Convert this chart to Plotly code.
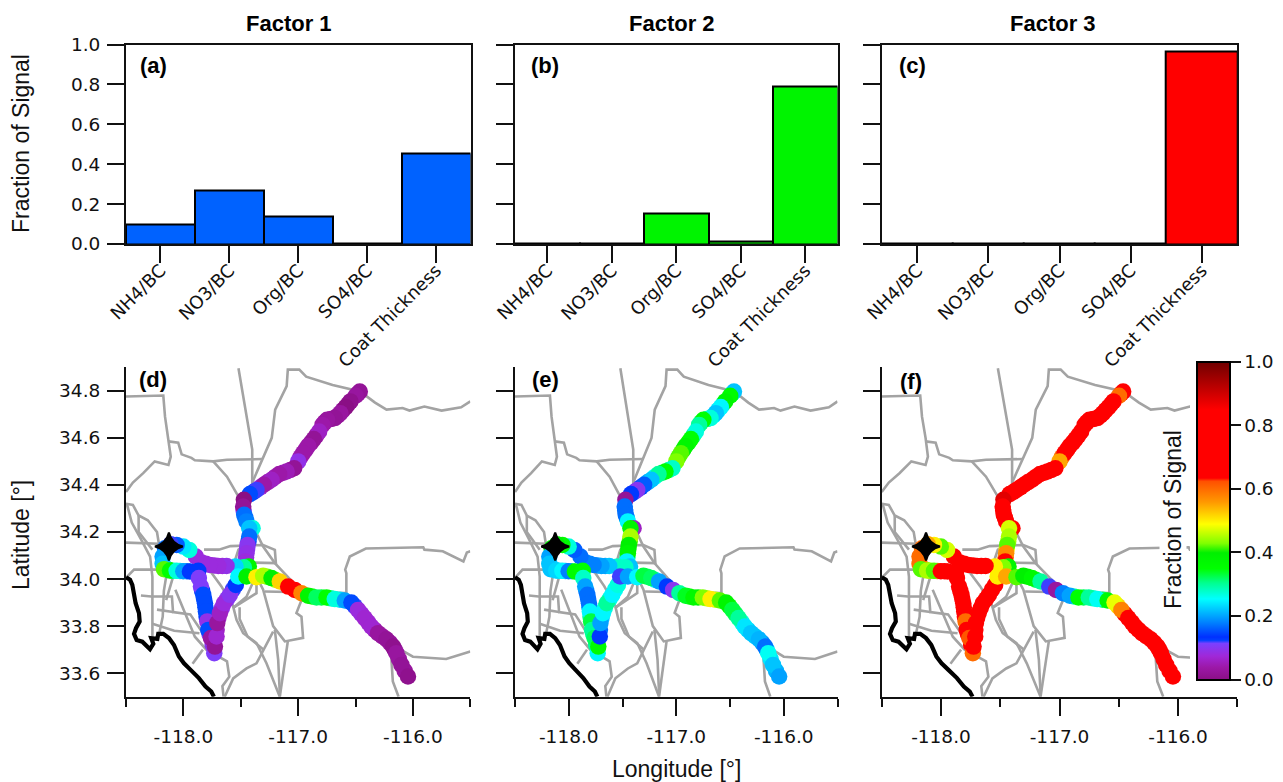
import plotly.graph_objects as go

W, H = 1283, 782

# ---------- bar data ----------
species = ["NH4/BC", "NO3/BC", "Org/BC", "SO4/BC", "Coat Thickness"]
factor1_bars = [0.10, 0.27, 0.14, 0.002, 0.455]
factor2_bars = [0.002, 0.002, 0.155, 0.015, 0.79]
factor3_bars = [0.004, 0.002, 0.002, 0.002, 0.965]
bar_colors = ["#0062ff", "#00f400", "#ff0000"]
factor_titles = ["Factor 1", "Factor 2", "Factor 3"]

# ---------- flight track: samples drawn first (underneath) ----------
under_lon = [-116.48,-116.565,-116.61,-116.656,-116.715,-116.77,-116.84,-116.888,-116.935,-116.98,-117.068,-117.13,-117.2,-117.265,-117.33,-117.39,-117.475,-117.46,-117.433,-117.445,-117.454,
             -117.837,-117.82,-117.808,-117.798,-117.772,-117.745,-117.71,-117.695,-117.665,-117.62,-117.57,
             -116.507,-116.45,-116.39,-116.333,-116.268,-116.2,-116.158,-116.122,-116.072,
             -116.88,-116.797,-116.717,-116.636,-117.2,-117.27,
             -117.66,-117.73,-117.805,-118.13,-118.09,-118.03,-117.97]
under_lat = [34.788,34.743,34.718,34.694,34.68,34.666,34.611,34.58,34.55,34.518,34.464,34.452,34.434,34.412,34.39,34.37,34.29,34.26,34.16,34.128,34.092,
             33.95,33.915,33.88,33.84,33.765,33.72,33.785,33.835,33.876,33.915,33.955,
             33.885,33.852,33.816,33.784,33.757,33.729,33.7,33.66,33.61,
             33.926,33.922,33.918,33.912,33.997,34.01,
             34.056,34.058,34.065,34.04,34.035,34.034,34.033]
under_f1 = [.03,.02,.03,.03,.03,.03,.04,.03,.04,.05,.04,.05,.05,.05,.08,.13,.1,.17,.14,.1,.08,
            .13,.15,.15,.14,.1,.1,.06,.06,.09,.1,.12,
            .12,.08,.07,.05,.03,.03,.03,.03,.03,
            .35,.33,.3,.23,.45,.42,
            .08,.08,.08,.4,.3,.24,.17]
under_f2 = [.28,.3,.24,.25,.3,.32,.3,.36,.4,.42,.3,.32,.26,.2,.13,.12,.17,.2,.42,.4,.3,
            .18,.17,.2,.3,.3,.3,.17,.22,.27,.27,.26,
            .36,.32,.27,.23,.22,.19,.22,.24,.21,
            .36,.4,.46,.46,.26,.32,
            .2,.19,.18,.22,.24,.2,.3]
under_f3 = [.68,.74,.74,.73,.7,.7,.74,.7,.68,.6,.72,.7,.7,.72,.74,.75,.72,.68,.44,.5,.6,
            .72,.72,.74,.68,.66,.66,.74,.72,.72,.72,.7,
            .52,.64,.72,.73,.73,.72,.72,.72,.72,
            .28,.32,.28,.32,.33,.38,
            .74,.73,.73,.43,.44,.55,.7]

# ---------- flight track: samples drawn on top ----------
track_lon = [-116.463,-116.498,-116.545,-116.585,-116.632,-116.681,-116.748,-116.788,-116.817,-116.864,
             -116.913,-116.957,-117.0,-117.035,-117.10,-117.165,-117.232,-117.299,-117.363,-117.421,
             -117.473,-117.479,-117.470,-117.45,-117.397,-117.426,-117.426,-117.441,-117.45,-117.458,
             -117.43,-117.473,-117.545,-117.624,-117.696,-117.769,-117.841,-117.891,-117.949,-118.001,
             -118.059,-118.111,-118.16,-118.181,-118.181,-118.169,-118.117,-118.059,-118.001,-117.943,
             -117.87,-117.865,-117.847,-117.827,-117.812,-117.804,-117.792,-117.783,-117.76,-117.731,
             -117.725,-117.711,-117.705,-117.682,-117.647,-117.595,-117.543,-117.522,-117.45,-117.363,
             -117.305,-117.232,-117.16,-117.087,-117.029,-116.971,-116.913,-116.84,-116.753,-116.681,
             -116.594,-116.536,-116.478,-116.42,-116.362,-116.304,-116.231,-116.173,-116.144,-116.1,-116.043]
track_lat = [34.797,34.779,34.755,34.731,34.705,34.684,34.677,34.655,34.627,34.595,
             34.566,34.535,34.5,34.471,34.457,34.446,34.422,34.401,34.379,34.361,
             34.337,34.308,34.273,34.245,34.216,34.216,34.181,34.145,34.11,34.075,
             34.053,34.05,34.053,34.056,34.056,34.06,34.07,34.096,34.124,34.138,
             34.145,34.148,34.131,34.096,34.065,34.042,34.036,34.035,34.033,34.032,
             34.035,34.004,33.968,33.933,33.897,33.862,33.82,33.784,33.749,33.685,
             33.713,33.756,33.813,33.855,33.897,33.933,33.975,34.011,34.011,34.008,
             34.014,34.004,33.99,33.968,33.954,33.94,33.929,33.922,33.922,33.915,
             33.909,33.9,33.869,33.834,33.798,33.77,33.744,33.713,33.685,33.635,33.586]
factor1_track = [0.02,0.03,0.01,0.0,0.03,0.02,0.03,0.04,0.06,0.02,
                 0.04,0.04,0.09,0.02,0.05,0.04,0.06,0.04,0.12,0.15,
                 0.0,0.02,0.17,0.18,0.27,0.22,0.17,0.1,0.09,0.08,
                 0.38,0.3,0.23,0.09,0.08,0.08,0.08,0.08,0.27,0.24,
                 0.16,0.12,0.17,0.2,0.22,0.42,0.35,0.27,0.2,0.14,
                 0.13,0.11,0.11,0.15,0.15,0.15,0.09,0.15,0.03,0.11,
                 0.02,0.07,0.03,0.06,0.08,0.1,0.13,0.25,0.4,0.5,
                 0.45,0.4,0.52,0.68,0.72,0.58,0.38,0.32,0.35,0.27,
                 0.2,0.15,0.08,0.07,0.07,0.03,0.02,0.01,0.03,0.02,0.01]
factor2_track = [0.22,0.36,0.38,0.25,0.22,0.27,0.35,0.3,0.27,0.35,
                 0.38,0.42,0.43,0.28,0.35,0.3,0.22,0.16,0.1,0.14,
                 0.02,0.17,0.17,0.25,0.06,0.38,0.45,0.4,0.38,0.25,
                 0.22,0.28,0.28,0.22,0.2,0.18,0.18,0.17,0.16,0.27,
                 0.36,0.4,0.37,0.2,0.22,0.22,0.23,0.25,0.18,0.36,
                 0.35,0.28,0.2,0.17,0.17,0.25,0.33,0.3,0.32,0.25,
                 0.36,0.14,0.2,0.25,0.3,0.25,0.27,0.12,0.2,0.25,
                 0.33,0.32,0.2,0.14,0.1,0.3,0.34,0.37,0.43,0.5,
                 0.42,0.38,0.33,0.3,0.24,0.22,0.21,0.17,0.26,0.22,0.2]
factor3_track = [0.75,0.6,0.75,0.72,0.75,0.72,0.65,0.7,0.75,0.72,
                 0.7,0.65,0.55,0.72,0.72,0.65,0.72,0.73,0.75,0.75,
                 0.88,0.72,0.7,0.65,0.7,0.47,0.45,0.42,0.57,0.65,
                 0.38,0.43,0.5,0.72,0.75,0.72,0.75,0.75,0.47,0.42,
                 0.5,0.55,0.6,0.6,0.6,0.42,0.45,0.42,0.7,0.7,
                 0.7,0.68,0.72,0.72,0.72,0.75,0.6,0.7,0.62,0.6,
                 0.73,0.75,0.72,0.72,0.72,0.72,0.65,0.5,0.55,0.42,
                 0.4,0.37,0.3,0.12,0.03,0.18,0.2,0.35,0.3,0.26,
                 0.37,0.48,0.58,0.7,0.73,0.73,0.72,0.73,0.72,0.72,0.72]
star_lon = [-118.126]
star_lat = [34.138]

# ---------- road network and coast ----------
road_paths = [
    [(-118.5,34.776),(-118.175,34.78),(-118.16,34.69),(-118.13,34.6),(-118.11,34.52),(-118.13,34.485),(-118.25,34.5),(-118.35,34.45),(-118.44,34.41),(-118.5,34.37)],
    [(-118.13,34.585),(-118.045,34.58),(-118.015,34.53),(-117.93,34.515),(-117.90,34.505),(-117.74,34.5),(-117.62,34.507),(-117.31,34.51)],
    [(-117.74,34.5),(-117.62,34.435),(-117.52,34.35)],
    [(-117.52,34.896),(-117.45,34.69),(-117.40,34.55),(-117.40,34.40)],
    [(-117.40,34.41),(-117.31,34.51),(-117.23,34.6),(-117.20,34.72),(-117.10,34.82),(-117.09,34.89),(-116.99,34.89),(-116.93,34.86),(-116.70,34.825),(-116.46,34.797),(-116.33,34.75),(-116.23,34.72),(-116.09,34.727),(-116.03,34.716),(-115.90,34.733),(-115.75,34.716),(-115.58,34.73),(-115.5,34.755)],
    [(-116.58,33.94),(-116.58,34.025),(-116.59,34.04),(-116.55,34.096),(-116.41,34.13),(-115.91,34.135),(-115.90,34.125),(-115.74,34.118),(-115.56,34.075),(-115.53,34.113),(-115.5,34.118)],
    [(-118.5,34.32),(-118.44,34.315),(-118.39,34.27),(-118.31,34.25),(-118.23,34.2),(-118.21,34.145),(-118.19,34.08)],
    [(-118.49,34.315),(-118.45,34.24),(-118.37,34.17),(-118.29,34.095),(-118.27,34.01),(-118.27,33.91),(-118.27,33.755)],
    [(-118.5,34.155),(-118.21,34.15)],
    [(-118.39,34.27),(-118.39,34.2),(-118.27,34.125)],
    [(-118.5,34.005),(-118.43,34.04),(-118.23,34.04),(-117.42,34.04)],
    [(-118.37,33.93),(-118.28,33.926),(-118.1,33.926),(-118.09,33.86),(-117.94,33.85),(-117.83,33.77)],
    [(-118.14,34.04),(-118.17,33.95),(-118.18,33.84),(-118.21,33.77)],
    [(-118.08,34.025),(-118.15,33.91)],
    [(-118.23,33.87),(-118.09,33.86)],
    [(-118.27,33.81),(-118.08,33.78),(-117.86,33.77)],
    [(-118.07,33.955),(-118.0,33.87),(-117.9,33.755),(-117.8,33.70),(-117.62,33.65),(-117.6,33.585),(-117.66,33.545),(-117.65,33.50)],
    [(-117.83,33.70),(-117.92,33.64)],
    [(-117.76,34.03),(-117.67,33.97),(-117.56,33.88),(-117.45,33.925),(-117.39,33.99),(-117.42,34.04)],
    [(-117.51,33.88),(-117.51,33.83),(-117.44,33.755),(-117.3,33.70)],
    [(-117.82,34.125),(-117.69,34.125),(-117.59,34.14),(-117.305,34.145),(-117.203,34.124),(-117.194,34.068),(-117.42,34.07)],
    [(-117.363,34.195),(-117.305,34.138),(-117.203,34.068),(-116.957,33.94)],
    [(-117.55,34.08),(-117.52,34.125),(-117.45,34.145)],
    [(-117.363,34.01),(-117.305,33.955),(-117.218,33.8),(-117.116,33.735),(-116.957,33.75),(-116.971,33.84),(-117.015,33.856),(-116.971,33.91),(-116.957,33.94)],
    [(-117.29,33.947),(-116.58,33.94)],
    [(-117.566,33.883),(-117.537,33.827),(-117.479,33.77),(-117.363,33.728),(-117.276,33.642),(-117.16,33.5)],
    [(-117.218,33.777),(-117.29,33.713),(-117.363,33.642),(-117.45,33.62),(-117.566,33.578),(-117.64,33.5)],
    [(-117.09,33.735),(-117.116,33.643),(-117.16,33.5)],
    [(-117.203,33.784),(-117.174,33.657),(-117.16,33.515)],
    [(-117.363,33.997),(-117.363,33.94),(-117.56,33.88)],
    [(-116.19,33.678),(-116.175,33.565),(-116.125,33.5)],
    [(-116.13,33.706),(-116.0,33.67),(-115.71,33.66),(-115.5,33.692)],
]
coast_lon = [-118.5,-118.465,-118.445,-118.436,-118.416,-118.387,-118.381,-118.413,-118.43,-118.407,-118.358,-118.291,-118.262,-118.28,-118.227,-118.219,-118.175,-118.126,-118.082,-118.039,-117.995,-117.937,-117.865,-117.807,-117.757,-117.734]
coast_lat = [34.008,33.997,33.975,33.94,33.897,33.855,33.819,33.791,33.767,33.741,33.734,33.702,33.725,33.749,33.746,33.767,33.767,33.749,33.72,33.671,33.642,33.614,33.579,33.543,33.522,33.5]

# ---------- axis labels ----------
y_bar_ticks = [0, 0.2, 0.4, 0.6, 0.8, 1.0]
y_bar_labels = ["0.0", "0.2", "0.4", "0.6", "0.8", "1.0"]
lat_ticks = [33.6, 33.8, 34.0, 34.2, 34.4, 34.6, 34.8]
lat_labels = ["33.6", "33.8", "34.0", "34.2", "34.4", "34.6", "34.8"]
lon_ticks = [-118, -117, -116]
lon_labels = ["-118.0", "-117.0", "-116.0"]
lon_minor = [-118.5, -117.5, -116.5, -115.5]

colorscale = [
    [0.0, "#8a0f85"], [0.04, "#9c18a8"], [0.075, "#a028d8"], [0.115, "#7a40ff"], [0.125, "#0040ff"],
    [0.135, "#0030ff"], [0.18, "#0080ff"], [0.255, "#00ffff"], [0.305, "#00ff90"],
    [0.35, "#00ff00"], [0.40, "#00f000"], [0.43, "#80ff00"], [0.49, "#ffff00"],
    [0.56, "#ff9800"], [0.625, "#ff5000"], [0.635, "#ff0000"], [0.85, "#ff0000"],
    [1.0, "#700000"],
]

TICK_FONT = dict(family="DejaVu Sans", size=18.5, color="#111111")
CAT_FONT = dict(family="DejaVu Sans", size=18, color="#111111")
HEAD_FONT = dict(family="Liberation Sans", size=22, color="black")
TITLE_FONT = dict(family="Liberation Sans", size=23, color="#111111")


def px(x):
    return x / W


def py(y):
    return 1 - y / H


bar_x_px = [(126, 470.5), (515, 837.5), (881.7, 1237.3)]
map_x_px = [(126, 470.3), (515, 837.5), (881.7, 1237.3)]
bar_values = [factor1_bars, factor2_bars, factor3_bars]
track_values = [under_f1 + factor1_track, under_f2 + factor2_track, under_f3 + factor3_track]
all_lon = under_lon + track_lon
all_lat = under_lat + track_lat

road_lon, road_lat = [], []
for path in road_paths:
    road_lon += [p[0] for p in path] + [None]
    road_lat += [p[1] for p in path] + [None]

fig = go.Figure()
layout = {}
annotations = []

for i in range(3):
    n = i + 1
    fig.add_trace(go.Bar(x=species, y=bar_values[i], marker=dict(color=bar_colors[i], line=dict(color="black", width=2)),
                         width=1.0, xaxis=f"x{n}", yaxis=f"y{n}", showlegend=False))
    layout[f"xaxis{n}"] = dict(domain=[px(bar_x_px[i][0]), px(bar_x_px[i][1])], anchor=f"y{n}", type="category",
                               categoryorder="array", categoryarray=species, range=[-0.5, 4.5], automargin=False,
                               showgrid=False, zeroline=False, showline=True, linecolor="#111111", linewidth=2,
                               mirror=True, ticks="outside", ticklen=17, tickwidth=2, tickcolor="#111111",
                               tickangle=-45, tickfont=CAT_FONT, ticklabelstandoff=-10)
    layout[f"yaxis{n}"] = dict(domain=[py(244), py(44.5)], anchor=f"x{n}", range=[0, 1.0], automargin=False,
                               showgrid=False, zeroline=False, showline=True, linecolor="#111111", linewidth=2,
                               mirror=True, ticks="outside", ticklen=17, tickwidth=2, tickcolor="#111111",
                               tickvals=y_bar_ticks, ticktext=y_bar_labels if i == 0 else [""] * 6,
                               tickfont=TICK_FONT, ticklabelstandoff=3)

for i in range(3):
    n = i + 4
    xa, ya = f"x{n}", f"y{n}"
    fig.add_trace(go.Scatter(x=road_lon, y=road_lat, mode="lines", line=dict(color="#a3a3a3", width=2.6),
                             xaxis=xa, yaxis=ya, showlegend=False, hoverinfo="skip", connectgaps=False))
    fig.add_trace(go.Scatter(x=coast_lon, y=coast_lat, mode="lines", line=dict(color="black", width=4.2),
                             xaxis=xa, yaxis=ya, showlegend=False, hoverinfo="skip"))
    marker = dict(size=16.5, color=track_values[i], colorscale=colorscale, cmin=0, cmax=1, line=dict(width=0))
    if i == 2:
        marker.update(showscale=True, colorbar=dict(
            x=px(1196.5), xanchor="left", xpad=0, y=py(361.5), yanchor="top", ypad=0,
            lenmode="pixels", len=318, thicknessmode="pixels", thickness=33,
            outlinewidth=2, outlinecolor="black", ticks="outside", ticklen=10, tickwidth=2, tickcolor="#111111",
            tickvals=y_bar_ticks, ticktext=y_bar_labels, tickfont=TICK_FONT))
    fig.add_trace(go.Scatter(x=all_lon, y=all_lat, mode="markers", marker=marker,
                             xaxis=xa, yaxis=ya, showlegend=False))
    fig.add_trace(go.Scatter(x=star_lon, y=star_lat, mode="markers",
                             marker=dict(symbol="star-diamond", size=20, color="black", line=dict(color="black", width=2)),
                             xaxis=xa, yaxis=ya, showlegend=False))
    layout[f"xaxis{n}"] = dict(domain=[px(map_x_px[i][0]), px(map_x_px[i][1])], anchor=ya, range=[-118.5, -115.5],
                               automargin=False,
                               showgrid=False, zeroline=False, showline=True, linecolor="#111111", linewidth=2,
                               ticks="outside", ticklen=17, tickwidth=2, tickcolor="#111111",
                               tickvals=lon_ticks, ticktext=lon_labels, tickfont=TICK_FONT, ticklabelstandoff=5,
                               minor=dict(tickvals=lon_minor, ticks="outside", ticklen=8, tickwidth=2, tickcolor="#111111", showgrid=False))
    layout[f"yaxis{n}"] = dict(domain=[py(696.7), py(367.3)], anchor=xa, range=[33.5, 34.9], automargin=False,
                               showgrid=False, zeroline=False, showline=True, linecolor="#111111", linewidth=2,
                               ticks="outside", ticklen=17, tickwidth=2, tickcolor="#111111",
                               tickvals=lat_ticks, ticktext=lat_labels if i == 0 else [""] * 7,
                               tickfont=TICK_FONT, ticklabelstandoff=3)


def note(text, x, y, font, angle=0, bg=None):
    annotations.append(dict(text=text, x=px(x), y=py(y), xref="paper", yref="paper", showarrow=False,
                            xanchor="center", yanchor="middle", font=font, textangle=angle,
                            bgcolor=bg, borderpad=0))


for t, x in zip(factor_titles, [289, 672, 1053]):
    note(f"<b>{t}</b>", x, 24, HEAD_FONT)
for t, x, y in [("(a)", 153, 65), ("(b)", 545, 65), ("(c)", 912, 65), ("(d)", 153, 380), ("(e)", 545, 380), ("(f)", 911, 381)]:
    note(f"<b>{t}</b>", x, y, HEAD_FONT)
note("Fraction of Signal", 21, 144, TITLE_FONT, -90)
note("Latitude [°]", 21, 535, TITLE_FONT, -90)
note("Longitude [°]", 676, 769, TITLE_FONT)
note("Fraction of Signal", 1173, 520, TITLE_FONT, -90, bg="white")

fig.update_layout(
    width=W, height=H, autosize=False, margin=dict(l=0, r=0, t=0, b=0),
    paper_bgcolor="white", plot_bgcolor="rgba(0,0,0,0)", barmode="overlay", bargap=0,
    annotations=annotations,
    shapes=[dict(type="rect", xref="paper", yref="paper", x0=px(1190), x1=px(1283), y0=py(690), y1=py(350),
                 fillcolor="white", line=dict(width=0), layer="above")],
    **layout,
)

fig.write_html("out.html", config=dict(displayModeBar=False), post_script="document.body.style.margin='0';")
